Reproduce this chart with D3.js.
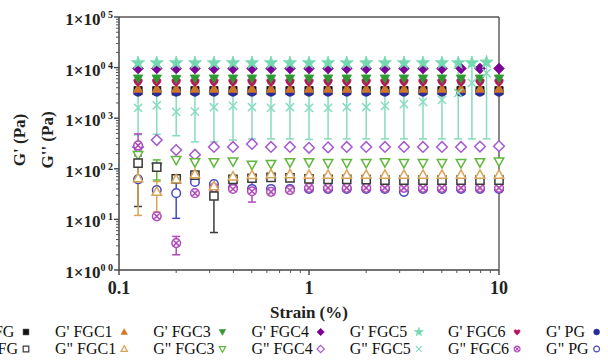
<!DOCTYPE html>
<html>
<head>
<meta charset="utf-8">
<script src="https://cdn.jsdelivr.net/npm/d3@7"></script>
<style>
  body { margin: 0; background: #fff; }
  svg { display: block; font-family: 'Liberation Serif', 'Times New Roman', serif; }
</style>
</head>
<body>
<svg id="chart" width="608" height="360"></svg>
<script>
// strain (%) — 10 points per decade
const strain = [0.126, 0.158, 0.2, 0.251, 0.316, 0.398, 0.501, 0.631, 0.794, 1,
  1.26, 1.58, 2, 2.51, 3.16, 3.98, 5.01, 6.31, 7.94, 10];
// FGC5 was measured at slightly different strains at the end
const strainFGC5 = [0.126, 0.158, 0.2, 0.251, 0.316, 0.398, 0.501, 0.631, 0.794, 1,
  1.26, 1.58, 2, 2.51, 3.16, 3.98, 5.01, 6.1, 7.2, 8.6];

// storage modulus G' (Pa)
const gpFG   = [3500, 3500, 3450, 3500, 3500, 3500, 3500, 3500, 3500, 3500, 3500, 3500, 3500, 3500, 3500, 3500, 3500, 3500, 3500, 3500];
const gpFGC1 = [3800, 3800, 3800, 3800, 3800, 3800, 3800, 3800, 3800, 3800, 3800, 3800, 3800, 3800, 3800, 3800, 3800, 3800, 3800, 3800];
const gpFGC3 = [6100, 6100, 6000, 6100, 6100, 6100, 6100, 6100, 6100, 6100, 6100, 6100, 6100, 6100, 6100, 6100, 6100, 6100, 6100, 6100];
const gpFGC4 = [9600, 9600, 9600, 9600, 9600, 9600, 9600, 9600, 9600, 9600, 9600, 9600, 9600, 9600, 9600, 9600, 9600, 9600, 9600, 9600];
const gpFGC5 = [12400, 12400, 12400, 12400, 12400, 12400, 12400, 12400, 12400, 12400, 12400, 12400, 12400, 12400, 12400, 12400, 12400, 12400, 12400, 12800];
const gpFGC6 = [5200, 5200, 5200, 5200, 5200, 5200, 5200, 5200, 5200, 5200, 5200, 5200, 5200, 5200, 5200, 5200, 5200, 5200, 5200, 5200];
const gpPG   = [3300, 3300, 3300, 3300, 3300, 3300, 3300, 3300, 3300, 3300, 3300, 3300, 3300, 3300, 3300, 3300, 3300, 3300, 3300, 3300];

// loss modulus G'' (Pa)
const gppFG   = [130, 108, 63, 75, 29, 62, 65, 68, 66, 63, 62, 62, 61, 60, 60, 60, 60, 60, 60, 60];
const gppFGC1 = [65, 35, 62, 78, 45, 70, 75, 78, 78, 76, 76, 76, 76, 76, 76, 76, 76, 76, 76, 76];
const gppFGC3 = [187, 108, 150, 135, 135, 140, 120, 125, 135, 135, 130, 130, 130, 135, 130, 130, 130, 130, 135, 140];
const gppFGC4 = [270, 370, 235, 190, 270, 270, 310, 270, 270, 260, 265, 270, 270, 270, 270, 270, 270, 270, 275, 280];
const gppFGC5 = [1600, 1800, 1330, 1350, 1650, 1750, 1650, 1600, 1650, 1600, 1600, 1650, 1650, 1750, 1900, 2100, 2300, 3150, 5000, 7800];
const gppFGC6 = [290, 11.5, 3.4, 33, 42, 40, 36, 35, 38, 42, 42, 42, 42, 42, 42, 42, 42, 42, 42, 42];
const gppPG   = [62, 38, 33, 55, 50, 42, 40, 40, 40, 40, 40, 40, 40, 40, 35, 40, 40, 40, 40, 40];

// error bar ends (null = no visible bar)
const lowFG    = [18, null, null, null, 5.5, null, null, null, null, null, null, null, null, null, null, null, null, null, null, null];
const highFG   = [240, null, null, null, 52, null, null, null, null, null, null, null, null, null, null, null, null, null, null, null];
const lowFGC1  = [12, 14, null, null, null, null, null, null, null, null, null, null, null, null, null, null, null, null, null, null];
const highFGC1 = [118, 56, null, null, 95, null, null, null, null, null, null, null, null, null, null, null, null, null, null, null];
const lowFGC3  = [null, 60, null, null, null, null, null, null, null, null, null, null, null, null, null, null, null, null, null, null];
const highFGC3 = [null, 150, null, null, null, null, null, null, null, null, null, null, null, null, null, null, null, null, null, null];
const lowFGC5  = [470, 480, 450, 340, 340, 370, 390, 390, 390, 380, 390, 390, 390, 390, 390, 390, 390, 390, 390, 390];
const highFGC5 = [12400, 12400, 12400, 12400, 12400, 12400, 12400, 12400, 12400, 12400, 12400, 12400, 12400, 12400, 12400, 12400, 12400, 12400, 12400, 12800];
const lowFGC6  = [180, null, 2.0, null, null, null, 22, null, null, null, null, null, null, null, null, null, null, null, null, null];
const highFGC6 = [490, null, 4.6, null, null, null, 55, null, null, null, null, null, null, null, null, null, null, null, null, null];
const lowPG    = [null, null, 10.5, null, null, null, null, null, null, null, null, null, null, null, null, null, null, null, null, null];
const highPG   = [null, null, 60, null, null, null, null, null, null, null, null, null, null, null, null, null, null, null, null, null];

const yTicks = [1, 10, 100, 1000, 10000, 100000];
const yTickExp = ['0 0', '0 1', '0 2', '0 3', '0 4', '0 5'];
const xTicks = [0.1, 1, 10];

const series = [
  { name: "G' FG",    x: strain,     y: gpFG,    shape: 'square',  fill: '#111111', stroke: '#111111', open: false },
  { name: "G' PG",    x: strain,     y: gpPG,    shape: 'circle',  fill: '#2a2a9a', stroke: '#2a2a9a', open: false },
  { name: "G' FGC1",  x: strain,     y: gpFGC1,  shape: 'triUp',   fill: '#d0782a', stroke: '#d0782a', open: false },
  { name: "G' FGC6",  x: strain,     y: gpFGC6,  shape: 'heart',   fill: '#b8145c', stroke: '#b8145c', open: false },
  { name: "G' FGC3",  x: strain,     y: gpFGC3,  shape: 'triDown', fill: '#2f9a34', stroke: '#2f9a34', open: false },
  { name: "G' FGC4",  x: strain,     y: gpFGC4,  shape: 'diamond', fill: '#7c0096', stroke: '#7c0096', open: false },
  { name: "G' FGC5",  x: strainFGC5, y: gpFGC5,  shape: 'star',    fill: '#74d8b0', stroke: '#74d8b0', open: false },
  { name: 'G" FGC5',  x: strainFGC5, y: gppFGC5, shape: 'times',   stroke: '#86dcbc', open: true, lo: lowFGC5, hi: highFGC5 },
  { name: 'G" FGC4',  x: strain,     y: gppFGC4, shape: 'diamond', stroke: '#a45ad2', open: true },
  { name: 'G" FGC3',  x: strain,     y: gppFGC3, shape: 'triDown', stroke: '#62b83e', open: true, lo: lowFGC3, hi: highFGC3 },
  { name: 'G" PG',    x: strain,     y: gppPG,   shape: 'circle',  stroke: '#4848c0', open: true, lo: lowPG, hi: highPG },
  { name: 'G" FGC6',  x: strain,     y: gppFGC6, shape: 'circleX', stroke: '#b04ab8', open: true, lo: lowFGC6, hi: highFGC6 },
  { name: 'G" FG',    x: strain,     y: gppFG,   shape: 'square',  stroke: '#3a3a3a', open: true, lo: lowFG, hi: highFG },
  { name: 'G" FGC1',  x: strain,     y: gppFGC1, shape: 'triUp',   stroke: '#d8a45a', open: true, lo: lowFGC1, hi: highFGC1 }
];

const legendRow1 = ["G' FG", "G' FGC1", "G' FGC3", "G' FGC4", "G' FGC5", "G' FGC6", "G' PG"];
const legendRow2 = ['G" FG', 'G" FGC1', 'G" FGC3', 'G" FGC4', 'G" FGC5', 'G" FGC6', 'G" PG'];

const margin = { left: 119, right: 499, top: 17, bottom: 270 };
const svg = d3.select('#chart');

const x = d3.scaleLog().domain([0.1, 10]).range([margin.left, margin.right]);
const y = d3.scaleLog().domain([1, 100000]).range([margin.bottom, margin.top]);

function markerPath(shape, s) {
  switch (shape) {
    case 'square': return `M${-s},${-s}h${2 * s}v${2 * s}h${-2 * s}Z`;
    case 'triUp': return `M0,${-s * 1.2}L${s * 1.15},${s * 0.85}L${-s * 1.15},${s * 0.85}Z`;
    case 'triDown': return `M0,${s * 1.2}L${s * 1.15},${-s * 0.85}L${-s * 1.15},${-s * 0.85}Z`;
    case 'diamond': return `M0,${-s * 1.3}L${s * 1.3},0L0,${s * 1.3}L${-s * 1.3},0Z`;
    case 'star': return d3.symbol(d3.symbolStar, s * s * 3.2)();
    case 'heart': return `M0,${s * 1.1}C${-s * 1.6},${-s * 0.1} ${-s * 1.1},${-s * 1.4} 0,${-s * 0.5}C${s * 1.1},${-s * 1.4} ${s * 1.6},${-s * 0.1} 0,${s * 1.1}Z`;
    case 'times': return `M${-s},${-s}L${s},${s}M${s},${-s}L${-s},${s}`;
    case 'circle': return d3.symbol(d3.symbolCircle, Math.PI * s * s * 1.1)();
    case 'circleX': {
      const r = s * 1.05, k = r * 0.7;
      return d3.symbol(d3.symbolCircle, Math.PI * r * r)() + `M${-k},${-k}L${k},${k}M${k},${-k}L${-k},${k}`;
    }
  }
}

// frame
const frame = svg.append('g').attr('stroke', '#555').attr('stroke-width', 1.4).attr('fill', 'none');
frame.append('line').attr('x1', margin.left).attr('x2', margin.right).attr('y1', margin.top).attr('y2', margin.top);
frame.append('line').attr('x1', margin.right).attr('x2', margin.right).attr('y1', margin.top).attr('y2', margin.bottom);

// y axis with log minor ticks
const yMinor = [];
for (let e = 0; e < 5; e++) for (let m = 2; m <= 9; m++) yMinor.push(m * Math.pow(10, e));
const yAxis = svg.append('g').attr('transform', `translate(${margin.left},0)`);
yAxis.append('line').attr('y1', margin.top).attr('y2', margin.bottom).attr('stroke', '#444').attr('stroke-width', 1.5);
yAxis.selectAll('.minor').data(yMinor).join('line')
  .attr('x1', -3).attr('x2', 0).attr('y1', d => y(d)).attr('y2', d => y(d))
  .attr('stroke', '#555').attr('stroke-width', 1);
yAxis.selectAll('.major').data(yTicks).join('line')
  .attr('x1', -5).attr('x2', 0).attr('y1', d => y(d)).attr('y2', d => y(d))
  .attr('stroke', '#444').attr('stroke-width', 1.4);
const yLab = yAxis.selectAll('text').data(yTicks).join('text')
  .attr('x', -6).attr('y', d => y(d) + 8)
  .attr('text-anchor', 'end').attr('font-weight', 'bold').attr('font-size', 17).attr('fill', '#222');
yLab.append('tspan').text('1×10');
yLab.append('tspan').attr('dy', -7).attr('font-size', 10).text((d, i) => yTickExp[i]);

// x axis
const xMinor = [];
for (let e = -1; e < 1; e++) for (let m = 2; m <= 9; m++) xMinor.push(m * Math.pow(10, e));
const xAxis = svg.append('g').attr('transform', `translate(0,${margin.bottom})`);
xAxis.append('line').attr('x1', margin.left).attr('x2', margin.right).attr('stroke', '#444').attr('stroke-width', 1.5);
xAxis.selectAll('.minor').data(xMinor).join('line')
  .attr('x1', d => x(d)).attr('x2', d => x(d)).attr('y1', 0).attr('y2', 3)
  .attr('stroke', '#555').attr('stroke-width', 1);
xAxis.selectAll('.major').data(xTicks).join('line')
  .attr('x1', d => x(d)).attr('x2', d => x(d)).attr('y1', 0).attr('y2', 5)
  .attr('stroke', '#444').attr('stroke-width', 1.4);
xAxis.selectAll('text').data(xTicks).join('text')
  .attr('x', d => x(d)).attr('y', 24)
  .attr('text-anchor', 'middle').attr('font-weight', 'bold').attr('font-size', 18).attr('fill', '#222')
  .text(d => d3.format('~g')(d));

// axis titles
svg.append('text').attr('x', (margin.left + margin.right) / 2).attr('y', 318)
  .attr('text-anchor', 'middle').attr('font-weight', 'bold').attr('font-size', 17).attr('fill', '#222')
  .text('Strain (%)');
svg.append('text').attr('transform', 'translate(25,140) rotate(-90)')
  .attr('text-anchor', 'middle').attr('font-weight', 'bold').attr('font-size', 17).attr('fill', '#222')
  .text("G' (Pa)");
svg.append('text').attr('transform', 'translate(53,140) rotate(-90)')
  .attr('text-anchor', 'middle').attr('font-weight', 'bold').attr('font-size', 17).attr('fill', '#222')
  .text("G'' (Pa)");

// error bars first, markers on top
const bars = svg.append('g');
series.filter(s => s.lo).forEach(s => {
  const pts = s.x.map((v, i) => ({ x: v, lo: s.lo[i], hi: s.hi[i] })).filter(d => d.lo != null);
  const g = bars.append('g').attr('stroke', s.stroke).attr('stroke-width', 1.5).attr('fill', 'none');
  g.selectAll('.v').data(pts).join('line')
    .attr('x1', d => x(d.x)).attr('x2', d => x(d.x)).attr('y1', d => y(d.lo)).attr('y2', d => y(d.hi));
  g.selectAll('.lo').data(pts).join('line')
    .attr('x1', d => x(d.x) - 4).attr('x2', d => x(d.x) + 4).attr('y1', d => y(d.lo)).attr('y2', d => y(d.lo));
  g.selectAll('.hi').data(pts).join('line')
    .attr('x1', d => x(d.x) - 4).attr('x2', d => x(d.x) + 4).attr('y1', d => y(d.hi)).attr('y2', d => y(d.hi));
});

const marks = svg.append('g');
series.forEach(s => {
  const pts = s.x.map((v, i) => ({ x: v, y: s.y[i] }));
  marks.append('g').selectAll('path').data(pts).join('path')
    .attr('transform', d => `translate(${x(d.x)},${y(d.y)})`)
    .attr('d', markerPath(s.shape, 4.1))
    .attr('fill', s.open ? (s.shape === 'times' ? 'none' : '#fff') : s.fill)
    .attr('stroke', s.stroke)
    .attr('stroke-width', s.open ? 1.5 : 0.8);
});

// legend: two rows, each column is text followed by its marker
const bySeries = name => series.find(s => s.name === name);
const legend = svg.append('g').attr('font-size', 16).attr('fill', '#111');
const firstMarkerX = 26;
let cx = null;
legendRow1.forEach((t1, i) => {
  const t2 = legendRow2[i];
  const a = legend.append('text').attr('y', 337).text(t1);
  const b = legend.append('text').attr('y', 354).text(t2);
  const w = Math.max(a.node().getComputedTextLength(), b.node().getComputedTextLength());
  if (cx === null) cx = firstMarkerX - 8 - w;
  a.attr('x', cx);
  b.attr('x', cx);
  const mx = cx + w + 8;
  [[bySeries(t1), 332], [bySeries(t2), 349]].forEach(([s, yy]) => {
    legend.append('path')
      .attr('transform', `translate(${mx},${yy})`)
      .attr('d', markerPath(s.shape, 2.8))
      .attr('fill', s.open ? (s.shape === 'times' ? 'none' : '#fff') : s.fill)
      .attr('stroke', s.stroke)
      .attr('stroke-width', s.open ? 1.2 : 0.6);
  });
  cx = mx + 29;
});
</script>
</body>
</html>
